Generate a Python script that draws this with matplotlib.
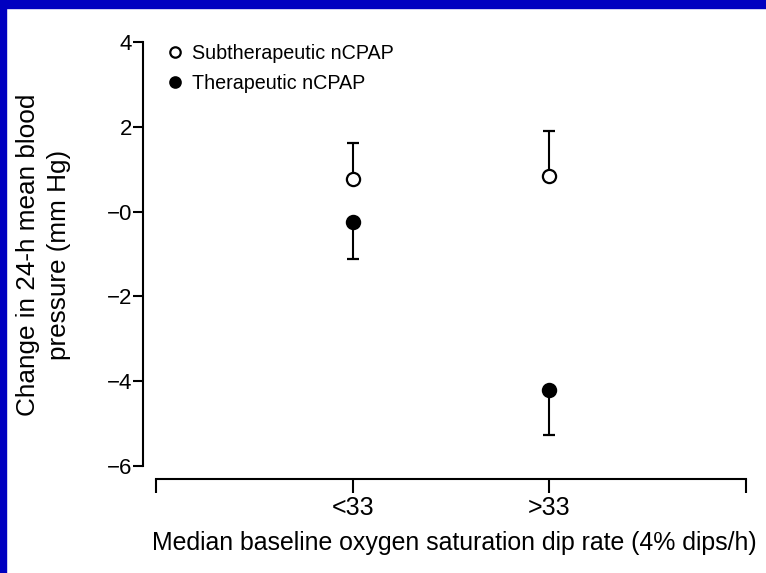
import matplotlib
matplotlib.use('Agg')
import matplotlib.pyplot as plt
from matplotlib.patches import Rectangle
from matplotlib.lines import Line2D

plt.rcParams['font.family'] = ['Liberation Sans', 'DejaVu Sans']

# data
groups = ['<33', '>33']
group_pos = [1, 2]
sub_mean = [0.78, 0.85]   # subtherapeutic nCPAP
sub_upper = [0.85, 1.04]  # upward error only
ther_mean = [-0.24, -4.22]  # therapeutic nCPAP
ther_lower = [0.89, 1.06]   # downward error only
y_ticks = [4, 2, 0, -2, -4, -6]
y_tick_labels = ['4', '2', '\u22120', '\u22122', '\u22124', '\u22126']


def plot_chart():
    fig = plt.figure(figsize=(7.66, 5.73), dpi=100)
    fig.patch.set_facecolor('white')
    # blue slide frame on top and left
    fig.patches.append(Rectangle((0, 1 - 8 / 573), 1, 8 / 573, transform=fig.transFigure,
                                 color='#0000c0', zorder=0))
    fig.patches.append(Rectangle((0, 0), 6 / 766, 1, transform=fig.transFigure,
                                 color='#0000c0', zorder=0))

    ax = fig.add_axes([0.1867, 0.164, 0.7872, 0.770])
    ax.set_xlim(-0.066, 3.0)
    ax.set_ylim(-6.31, 4.1)

    ax.errorbar(group_pos, sub_mean, yerr=[[0, 0], sub_upper], fmt='o',
                ms=9.5, mfc='white', mec='black', mew=1.6,
                ecolor='black', elinewidth=1.5, capsize=4, capthick=1.5, clip_on=False)
    ax.errorbar(group_pos, ther_mean, yerr=[ther_lower, [0, 0]], fmt='o',
                ms=9.5, mfc='black', mec='black', mew=1.6,
                ecolor='black', elinewidth=1.5, capsize=4, capthick=1.5, clip_on=False)

    for s in ['top', 'right']:
        ax.spines[s].set_visible(False)
    ax.spines['left'].set_bounds(-6, 4)
    ax.spines['bottom'].set_bounds(0, 3)
    ax.spines['left'].set_linewidth(1.5)
    ax.spines['bottom'].set_linewidth(1.5)

    ax.set_yticks(y_ticks)
    ax.set_yticklabels(y_tick_labels)
    ax.set_xticks([0] + group_pos + [3])
    ax.set_xticklabels([''] + groups + [''])
    ax.tick_params(axis='y', direction='out', length=7, width=1.5, labelsize=16, pad=1)
    ax.tick_params(axis='x', direction='out', length=10, width=1.5, labelsize=18, pad=2)

    ax.set_ylabel('Change in 24-h mean blood\npressure (mm Hg)', fontsize=18.8,
                  linespacing=1.4)
    ax.yaxis.set_label_coords(-0.119, 0.508)
    ax.set_xlabel('Median baseline oxygen saturation dip rate (4% dips/h)', fontsize=17.9)
    ax.xaxis.set_label_coords(0.517, -0.118)

    handles = [
        Line2D([], [], ls='none', marker='o', ms=7.5, mfc='white', mec='black', mew=1.6),
        Line2D([], [], ls='none', marker='o', ms=7.5, mfc='black', mec='black', mew=1.6),
    ]
    ax.legend(handles, ['Subtherapeutic nCPAP', 'Therapeutic nCPAP'], loc='upper left',
              bbox_to_anchor=(169 / 766, 1 - 44 / 573), bbox_transform=fig.transFigure,
              frameon=False, fontsize=14.2, handlelength=0.6, handletextpad=0.55,
              labelspacing=0.55, borderpad=0, borderaxespad=0)

    plt.savefig('out.png', dpi=100)


if __name__ == '__main__':
    plot_chart()
